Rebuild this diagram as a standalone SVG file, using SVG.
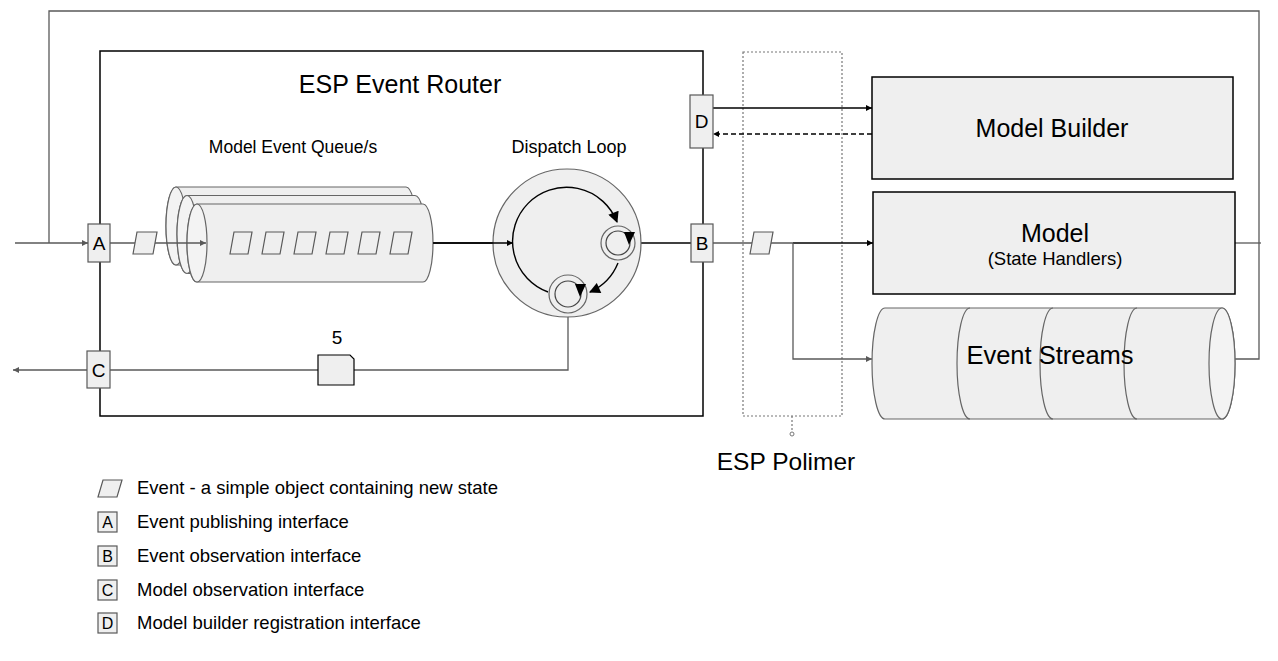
<svg xmlns="http://www.w3.org/2000/svg" width="1278" height="661" viewBox="0 0 1278 661">
<style>
text{font-family:"Liberation Sans",Arial,sans-serif;fill:#000}
.box{fill:#efefef;stroke:#000;stroke-width:1.5}
.ifc{fill:#efefef;stroke:#595959;stroke-width:1.2}
.cyl{fill:#efefef;stroke:#666;stroke-width:1.2}
.cap{fill:#f3f3f3;stroke:#666;stroke-width:1.2}
.ev{fill:#efefef;stroke:#595959;stroke-width:1.2}
.lb{fill:none;stroke:#000;stroke-width:1.3}
.lg{fill:none;stroke:#595959;stroke-width:1.3}
.arc{fill:none;stroke:#000;stroke-width:1.4}
.dot{fill:none;stroke:#777;stroke-width:1.2;stroke-dasharray:2 2}
.lgd{font-size:18.5px}
</style>
<defs>
<marker id="ab" viewBox="0 0 10 10" refX="10" refY="5" markerWidth="8" markerHeight="6" markerUnits="userSpaceOnUse" orient="auto"><path d="M0,0 L10,5 L0,10 Z" fill="#000"/></marker>
<marker id="ag" viewBox="0 0 10 10" refX="10" refY="5" markerWidth="8" markerHeight="6" markerUnits="userSpaceOnUse" orient="auto"><path d="M0,0 L10,5 L0,10 Z" fill="#595959"/></marker>
<marker id="abig" viewBox="0 0 10 10" refX="9" refY="5" markerWidth="13" markerHeight="11" markerUnits="userSpaceOnUse" orient="auto"><path d="M0,0 L10,5 L0,10 Z" fill="#000"/></marker>
</defs>

<g id="router">
<rect x="100" y="51" width="603" height="365" fill="none" stroke="#000" stroke-width="1.5"/>
<text x="400" y="93" font-size="25" text-anchor="middle">ESP Event Router</text>
<text x="293" y="153" font-size="17.5" text-anchor="middle">Model Event Queue/s</text>
<text x="569" y="153" font-size="18" text-anchor="middle">Dispatch Loop</text>
</g>

<g id="polimer">
<rect x="743" y="52" width="99" height="364" class="dot"/>
<line x1="792" y1="416" x2="792" y2="432" class="dot"/>
<circle cx="792" cy="434" r="2" fill="none" stroke="#777" stroke-width="1"/>
<text x="786" y="470" font-size="24.5" text-anchor="middle">ESP Polimer</text>
</g>

<g id="connectors">
<path d="M49,243 V11 H1259 V359 H1235" class="lg"/>
<path d="M1235,243 H1261" class="lg"/>
<path d="M15,243 H88" class="lg" marker-end="url(#ag)"/>
<path d="M433,243 H513" class="lb" marker-end="url(#ab)"/>
<path d="M636,243 H691" class="lb"/>
<path d="M713,243 H793" class="lg"/>
<path d="M793,243 H873" class="lb" marker-end="url(#ab)"/>
<path d="M793,243 V359 H872" class="lg" marker-end="url(#ag)"/>
<path d="M87,370 H13" class="lg" marker-end="url(#ag)"/>
<path d="M110,370 H318" class="lg"/>
<path d="M354,370 H568 V313" class="lg"/>
<path d="M713,108 H872" class="lb" marker-end="url(#ab)"/>
<path d="M872,134 H713" class="lb" stroke-dasharray="5 3" marker-end="url(#ab)"/>
</g>

<g id="queues">
<path class="cyl" d="M176,187 H406 A10,39 0 0 1 406,265 H176 A10,39 0 0 1 176,187 Z"/>
<ellipse class="cap" cx="176" cy="226" rx="10" ry="39"/>
<path class="cyl" d="M187,195.5 H415 A10,39 0 0 1 415,273.5 H187 A10,39 0 0 1 187,195.5 Z"/>
<ellipse class="cap" cx="187" cy="234.5" rx="10" ry="39"/>
<path class="cyl" d="M197,204 H423 A10,39 0 0 1 423,282 H197 A10,39 0 0 1 197,204 Z"/>
<ellipse class="cap" cx="197" cy="243" rx="10" ry="39"/>
<path d="M110,243 H206" class="lg" marker-end="url(#ag)"/>
<path class="ev" d="M230,254 L234,232 H252 L248,254 Z"/>
<path class="ev" d="M262,254 L266,232 H284 L280,254 Z"/>
<path class="ev" d="M294,254 L298,232 H316 L312,254 Z"/>
<path class="ev" d="M326,254 L330,232 H348 L344,254 Z"/>
<path class="ev" d="M358,254 L362,232 H380 L376,254 Z"/>
<path class="ev" d="M390,254 L394,232 H412 L408,254 Z"/>
</g>

<g id="event1"><path class="ev" d="M133,254 L137,232 H157 L153,254 Z"/></g>
<g id="event2"><path class="ev" d="M750,254 L754,232 H773 L769,254 Z"/></g>

<g id="dispatch">
<circle cx="567" cy="243" r="74" fill="#efefef" stroke="#666" stroke-width="1.2"/>
<path class="arc" d="M548,292 A54,54 0 1 1 617,222" marker-end="url(#abig)"/>
<path class="arc" d="M618,263 A54,54 0 0 1 590,292" marker-end="url(#abig)"/>
<path d="M433,243 H513" class="lb" marker-end="url(#ab)"/>
<circle cx="618" cy="243" r="17" fill="#efefef" stroke="#666" stroke-width="1.2"/>
<circle cx="618" cy="243" r="12" fill="none" stroke="#444" stroke-width="1.2"/>
<path d="M624,232 L635,232 L629,245 Z" fill="#000"/>
<circle cx="568" cy="294" r="19" fill="#efefef" stroke="#666" stroke-width="1.2"/>
<circle cx="568" cy="294" r="13" fill="none" stroke="#444" stroke-width="1.2"/>
<path d="M575,284 L586,284 L580,297 Z" fill="#000"/>
</g>

<g id="ifA"><rect class="ifc" x="88" y="224" width="22" height="38"/><text x="99" y="250" font-size="19" text-anchor="middle">A</text></g>
<g id="ifB"><rect class="ifc" x="691" y="224" width="22" height="38"/><text x="702" y="250" font-size="19" text-anchor="middle">B</text></g>
<g id="ifC"><rect class="ifc" x="87" y="351" width="23" height="37"/><text x="98.5" y="377" font-size="19" text-anchor="middle">C</text></g>
<g id="ifD"><rect class="ifc" x="690" y="95" width="23" height="53"/><text x="701.5" y="128" font-size="19" text-anchor="middle">D</text></g>

<g id="doc5">
<path d="M318,355 H350 L354,359 V385 H318 Z" fill="#efefef" stroke="#000" stroke-width="1.2"/>
<text x="337" y="344" font-size="19" text-anchor="middle">5</text>
</g>

<g id="modelBuilder">
<rect class="box" x="872" y="77" width="361" height="102"/>
<text x="1052" y="137" font-size="25" text-anchor="middle">Model Builder</text>
</g>

<g id="model">
<rect class="box" x="873" y="192" width="362" height="102"/>
<text x="1055" y="242" font-size="25" text-anchor="middle">Model</text>
<text x="1055" y="265" font-size="18.5" text-anchor="middle">(State Handlers)</text>
</g>

<g id="eventStreams">
<path class="cyl" d="M885,308 H1222 A13,55.5 0 0 1 1222,419 H885 A13,55.5 0 0 1 885,308 Z"/>
<path d="M970,308 A13,55.5 0 0 0 970,419" fill="none" stroke="#666" stroke-width="1.2"/>
<path d="M1053,308 A13,55.5 0 0 0 1053,419" fill="none" stroke="#666" stroke-width="1.2"/>
<path d="M1137,308 A13,55.5 0 0 0 1137,419" fill="none" stroke="#666" stroke-width="1.2"/>
<ellipse class="cap" cx="1222" cy="363.5" rx="13" ry="55.5"/>
<text x="1050" y="364" font-size="25.5" text-anchor="middle">Event Streams</text>
</g>

<g id="legend">
<path class="ev" d="M98,497 L103,480 H122 L117,497 Z"/>
<text class="lgd" x="137" y="494">Event - a simple object containing new state</text>
<rect class="ifc" x="98" y="512" width="19" height="20"/><text x="107.5" y="528" font-size="16" text-anchor="middle">A</text>
<text class="lgd" x="137" y="528">Event publishing interface</text>
<rect class="ifc" x="98" y="546" width="19" height="20"/><text x="107.5" y="562" font-size="16" text-anchor="middle">B</text>
<text class="lgd" x="137" y="562">Event observation interface</text>
<rect class="ifc" x="98" y="580" width="19" height="20"/><text x="107.5" y="596" font-size="16" text-anchor="middle">C</text>
<text class="lgd" x="137" y="596">Model observation interface</text>
<rect class="ifc" x="98" y="613" width="19" height="20"/><text x="107.5" y="629" font-size="16" text-anchor="middle">D</text>
<text class="lgd" x="137" y="629">Model builder registration interface</text>
</g>
</svg>
